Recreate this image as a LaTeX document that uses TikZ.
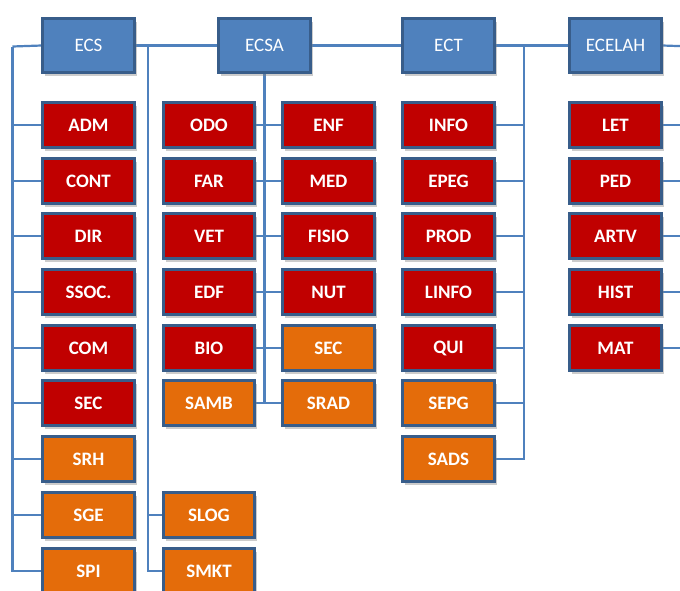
\documentclass[tikz,border=0pt]{standalone}
\usepackage{fontspec}
\setmainfont{Carlito}
\usepackage{tikz}
\usetikzlibrary{shadows, backgrounds}
\definecolor{steel}{RGB}{79,129,189}
\definecolor{darksteel}{RGB}{56,93,138}
\definecolor{ruby}{RGB}{192,0,0}
\definecolor{tangerine}{RGB}{228,108,10}

\begin{document}
\begin{tikzpicture}[x=1pt, y=-1pt]
  \tikzstyle{unit} = [rectangle, draw=darksteel, line width=2.6pt, minimum width=91.5pt, minimum height=45.5pt, inner sep=0pt, text=white, font=\fontsize{19}{19}\selectfont\bfseries, drop shadow={shadow xshift=2.5pt, shadow yshift=-3.5pt, opacity=0.4}]
  \tikzstyle{school} = [unit, fill=steel, minimum height=54pt, font=\fontsize{19}{19}\selectfont]
  \tikzstyle{course} = [unit, fill=ruby]
  \tikzstyle{sector} = [unit, fill=tangerine]
  \tikzstyle{link} = [draw=steel, line width=2.2pt]

  \useasboundingbox (0,0) rectangle (680,590);

  % Row 0: Schools
  \node [school] (ecs) at (88.5, 45.5) {ECS};
  \node [school] (ecsa) at (264.5, 45.5) {ECSA};
  \node [school] (ect) at (448.5, 45.5) {ECT};
  \node [school] (ecelah) at (615.5, 45.5) {ECELAH};

  % ECS column
  \node [course] (adm) at (88.5, 125) {ADM};
  \node [course] (cont) at (88.5, 181) {CONT};
  \node [course] (dir) at (88.5, 236) {DIR};
  \node [course] (ssoc) at (88.5, 292) {SSOC.};
  \node [course] (com) at (88.5, 348) {COM};
  \node [course] (seca) at (88.5, 403) {SEC};
  \node [sector] (srh) at (88.5, 459) {SRH};
  \node [sector] (sge) at (88.5, 515) {SGE};
  \node [sector] (spi) at (88.5, 571) {SPI};
  \node [sector] (slog) at (209, 515) {SLOG};
  \node [sector] (smkt) at (209, 571) {SMKT};

  % ECSA columns
  \node [course] (odo) at (209, 125) {ODO};
  \node [course] (far) at (209, 181) {FAR};
  \node [course] (vet) at (209, 236) {VET};
  \node [course] (edf) at (209, 292) {EDF};
  \node [course] (bio) at (209, 348) {BIO};
  \node [sector] (samb) at (209, 403) {SAMB};
  \node [course] (enf) at (328.5, 125) {ENF};
  \node [course] (med) at (328.5, 181) {MED};
  \node [course] (fisio) at (328.5, 236) {FISIO};
  \node [course] (nut) at (328.5, 292) {NUT};
  \node [sector] (secb) at (328.5, 348) {SEC};
  \node [sector] (srad) at (328.5, 403) {SRAD};

  % ECT column
  \node [course] (info) at (448.5, 125) {INFO};
  \node [course] (epeg) at (448.5, 181) {EPEG};
  \node [course] (prod) at (448.5, 236) {PROD};
  \node [course] (linfo) at (448.5, 292) {LINFO};
  \node [course] (qui) at (448.5, 348) {QUI};
  \node [sector] (sepg) at (448.5, 403) {SEPG};
  \node [sector] (sads) at (448.5, 459) {SADS};

  % ECELAH column
  \node [course] (let) at (615.5, 125) {LET};
  \node [course] (ped) at (615.5, 181) {PED};
  \node [course] (artv) at (615.5, 236) {ARTV};
  \node [course] (hist) at (615.5, 292) {HIST};
  \node [course] (mat) at (615.5, 348) {MAT};

  \coordinate (ecsbus) at (12.5, 46.5);
  \coordinate (sidebus) at (148, 46.5);
  \coordinate (ectbus) at (524, 46.5);
  \coordinate (edge) at (692, 46.5);

  \begin{scope}[on background layer]
    % Top line
    \draw[link] (ecsbus) -- (ecs.west);
    \draw[link] (ecs.east) -- (ecsa.west);
    \draw[link] (ecsa.east) -- (ect.west);
    \draw[link] (ect.east) -- (ecelah.west);
    \draw[link] (ecelah.east) -- (edge);

    % ECS buses
    \draw[link] (ecsbus) |- (spi.west);
    \foreach \n in {adm, cont, dir, ssoc, com, seca, srh, sge}
      \draw[link] (ecsbus) |- (\n.west);
    \draw[link] (sidebus) |- (smkt.west);
    \draw[link] (sidebus) |- (slog.west);

    % ECSA bus
    \draw[link] (ecsa.south) -- (ecsa.south |- samb.east);
    \foreach \l/\r in {odo/enf, far/med, vet/fisio, edf/nut, bio/secb, samb/srad}
      \draw[link] (\l.east) -- (\r.west);

    % ECT bus
    \draw[link] (ectbus) |- (sads.east);
    \foreach \n in {info, epeg, prod, linfo, qui, sepg}
      \draw[link] (ectbus) |- (\n.east);

    % ECELAH stubs
    \foreach \n in {let, ped, artv, hist, mat}
      \draw[link] (\n.east) -- (\n.east -| edge);
  \end{scope}
\end{tikzpicture}
\end{document}
